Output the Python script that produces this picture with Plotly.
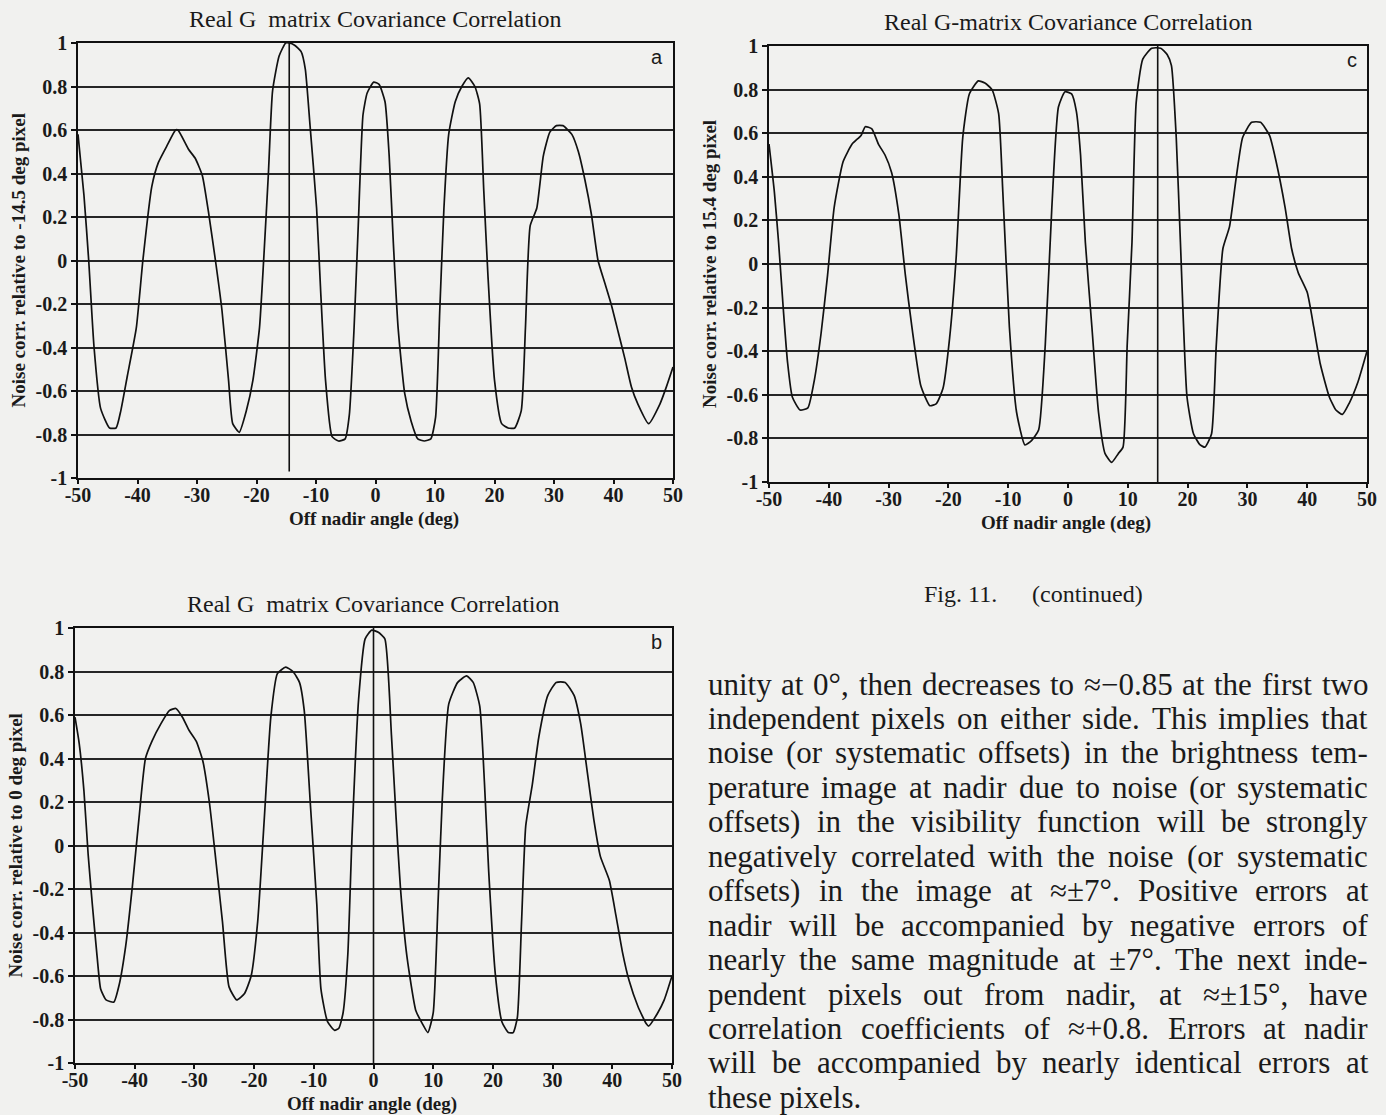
import plotly.graph_objects as go

# ---------------- data ----------------
angle_a = [-50, -49, -48.2, -47.3, -46.2, -44.7, -43.6, -42.8, -41.7, -40.2, -39.1, -37.6, -36.5, -35,
           -33.6, -33.2, -31.4, -30.3, -29.1, -28, -26.9, -25.8, -24.7, -24, -22.9, -21.7, -20.6,
           -19.5, -18.8, -18, -17.3, -16.2, -15.1, -14.5, -13.6, -12.5, -11.8, -11, -9.9, -9.2, -8.4,
           -7.3, -6.2, -5.1, -4.4, -3.6, -2.9, -2.1, -1.4, -0.3, 0.6, 1.6, 2.3, 3.0, 3.8, 4.9, 6,
           7.1, 8.2, 9.3, 10.1, 10.8, 11.5, 12.3, 13.4, 14.5, 15.6, 16.7, 17.5, 18.2, 18.9, 20,
           21.2, 22.3, 23.4, 24.5, 25.2, 26, 27.1, 28.2, 29.3, 30.4, 31.5, 33, 34.1, 35.2, 36.3,
           37.4, 38.5, 39.6, 40.8, 41.9, 43, 44.1, 45.9, 47.8, 48.9, 50]
corr_a = [0.58, 0.3, 0.0, -0.4, -0.68, -0.77, -0.77, -0.69, -0.53, -0.31, 0.0, 0.34, 0.45, 0.53,
          0.6, 0.6, 0.51, 0.47, 0.39, 0.21, 0.0, -0.23, -0.55, -0.75, -0.79, -0.69, -0.55,
          -0.31, 0.0, 0.4, 0.78, 0.94, 1.0, 1.0, 0.99, 0.96, 0.88, 0.62, 0.24, -0.15, -0.55,
          -0.81, -0.83, -0.82, -0.71, -0.31, 0.16, 0.67, 0.77, 0.82, 0.81, 0.73, 0.48, 0.08, -0.31, -0.61, -0.74,
          -0.82, -0.83, -0.82, -0.72, -0.23, 0.24, 0.58, 0.73, 0.80, 0.84, 0.80, 0.72, 0.32, -0.07, -0.55,
          -0.75, -0.77, -0.77, -0.69, -0.31, 0.16, 0.24, 0.48, 0.59, 0.62, 0.62, 0.58, 0.5, 0.37, 0.21,
          0.0, -0.1, -0.2, -0.33, -0.45, -0.58, -0.66, -0.75, -0.66, -0.58, -0.49]

angle_c = [-50, -49.1, -48.4, -47.6, -46.9, -46.1, -44.8, -43.5, -42.4, -41.3, -40.2, -39.1, -37.6,
           -36.1, -34.6, -33.9, -32.8, -31.7, -30.6, -29.5, -28.3, -27.2, -26.1, -24.6, -23.1, -22,
           -20.9, -19.8, -18.7, -17.6, -16.5, -15, -13.9, -12.7, -11.6, -10.9, -9.8, -8.6, -7.2,
           -6.1, -4.9, -3.8, -2.7, -1.6, -0.5, 0.6, 1.4, 2.1, 2.9, 4, 5.1, 6.2, 7.3, 8.4, 9.2, 9.9,
           10.7, 11.4, 12.5, 14, 15.5, 16.6, 17.3, 18.1, 18.8, 19.9, 21, 22.1, 22.9, 24, 24.8, 25.9,
           27, 28.1, 29.2, 30.7, 32.2, 33.7, 34.8, 36.3, 37.4, 38.5, 40, 41.1, 42.2, 43.7, 44.8,
           45.9, 47, 48.5, 50]
corr_c = [0.55, 0.33, 0.1, -0.21, -0.45, -0.61, -0.67, -0.66, -0.53, -0.32, -0.05, 0.26, 0.47,
          0.55, 0.59, 0.63, 0.62, 0.55, 0.5, 0.42, 0.23, -0.05, -0.29, -0.56, -0.65, -0.64,
          -0.57, -0.34, 0.03, 0.58, 0.78, 0.84, 0.83, 0.8, 0.69, 0.33, -0.29, -0.68, -0.83,
          -0.81, -0.76, -0.37, 0.26, 0.72, 0.79, 0.78, 0.70, 0.5, 0.1, -0.29, -0.68, -0.87, -0.91, -0.87, -0.84, -0.37,
          0.1, 0.74, 0.94, 0.99, 0.99, 0.96, 0.91, 0.58, 0.1, -0.61, -0.78, -0.83, -0.84, -0.78, -0.37, 0.07,
          0.17, 0.39, 0.58, 0.65, 0.65, 0.59, 0.47, 0.26, 0.07, -0.04, -0.13, -0.29, -0.46, -0.61, -0.67,
          -0.69, -0.64, -0.54, -0.4]

angle_b = [-50, -49.3, -48.5, -47.8, -47.1, -46.3, -45.7, -44.8, -43.5, -42.6, -41.5, -40.4, -39.3,
           -38.2, -37.1, -35.6, -34.2, -33.1, -32, -30.9, -29.7, -28.6, -27.5, -26.4, -25.3, -24.2,
           -22.9, -21.6, -20.5, -19.4, -18.3, -17.2, -16.1, -14.7, -13.5, -12.4, -11.6, -10.6, -9.5,
           -8.8, -7.7, -6.5, -5.8, -5.1, -4.3, -3.6, -2.5, -1.4, -0.3, 0.8, 1.9, 3, 3.8, 4.5, 5.6,
           7.1, 8.2, 9.1, 10, 10.8, 11.5, 12.6, 14.1, 15.6, 16.7, 17.8, 18.6, 19.3, 20.4, 21.5, 22.6,
           23.4, 24.1, 24.8, 25.5, 26.6, 27.7, 29.2, 30.6, 32.1, 33.6, 34.7, 35.8, 36.9, 38, 39.5,
           40.6, 41.7, 42.8, 44.3, 45.7, 46.1, 47.6, 48.7, 50]
corr_b = [0.59, 0.47, 0.25, -0.04, -0.27, -0.51, -0.66, -0.71, -0.72, -0.64, -0.46, -0.19, 0.12,
          0.40, 0.48, 0.56, 0.62, 0.63, 0.59, 0.53, 0.48, 0.39, 0.2, -0.07, -0.35, -0.65,
          -0.71, -0.68, -0.6, -0.35, 0.12, 0.59, 0.79, 0.82, 0.8, 0.75, 0.62, 0.2, -0.27,
          -0.66, -0.81, -0.85, -0.84, -0.77, -0.5, 0.04, 0.67, 0.95, 0.99, 0.98, 0.95, 0.51, 0.12, -0.19, -0.51,
          -0.76, -0.82, -0.86, -0.77, -0.27, 0.2, 0.65, 0.75, 0.78, 0.75, 0.64, 0.28, -0.12, -0.59, -0.81, -0.86,
          -0.86, -0.79, -0.35, 0.09, 0.28, 0.50, 0.69, 0.75, 0.75, 0.69, 0.56, 0.34, 0.12, -0.05, -0.16,
          -0.32, -0.49, -0.62, -0.74, -0.82, -0.83, -0.77, -0.71, -0.6]

ref_angle_a = -14.5
ref_angle_b = 0
ref_angle_c = 15

x_tick_vals = [-50, -40, -30, -20, -10, 0, 10, 20, 30, 40, 50]
x_tick_text = ["-50", "-40", "-30", "-20", "-10", "0", "10", "20", "30", "40", "50"]
y_tick_vals = [-1, -0.8, -0.6, -0.4, -0.2, 0, 0.2, 0.4, 0.6, 0.8, 1]
y_tick_text = ["-1", "-0.8", "-0.6", "-0.4", "-0.2", "0", "0.2", "0.4", "0.6", "0.8", "1"]

title_a = "Real G  matrix Covariance Correlation"
title_b = "Real G  matrix Covariance Correlation"
title_c = "Real G-matrix Covariance Correlation"
ylabel_a = "Noise corr. relative to -14.5 deg pixel"
ylabel_b = "Noise corr. relative to 0 deg pixel"
ylabel_c = "Noise corr. relative to 15.4 deg pixel"
xlabel = "Off nadir angle (deg)"

caption_left = "Fig. 11."
caption_right = "(continued)"
paragraph_lines = [
    "unity at 0°, then decreases to ≈−0.85 at the first two",
    "independent pixels on either side. This implies that",
    "noise (or systematic offsets) in the brightness tem-",
    "perature image at nadir due to noise (or systematic",
    "offsets) in the visibility function will be strongly",
    "negatively correlated with the noise (or systematic",
    "offsets) in the image at ≈±7°. Positive errors at",
    "nadir will be accompanied by negative errors of",
    "nearly the same magnitude at ±7°. The next inde-",
    "pendent pixels out from nadir, at ≈±15°, have",
    "correlation coefficients of ≈+0.8. Errors at nadir",
    "will be accompanied by nearly identical errors at",
    "these pixels.",
]

# ---------------- layout helpers ----------------
W, H = 1386, 1115
BG = "#f1f1ef"
SERIF = "Liberation Serif, Times New Roman, serif"
INK = "#1a1a1a"


def px(x):
    return x / W


def py(y):
    return 1 - y / H


fig = go.Figure()

panels = [
    ("", angle_a, corr_a, ref_angle_a, 78, 673, 43, 478, title_a, ylabel_a, "a", -0.97),
    ("2", angle_c, corr_c, ref_angle_c, 769, 1367, 46, 482, title_c, ylabel_c, "c", -1),
    ("3", angle_b, corr_b, ref_angle_b, 75, 672, 628, 1063, title_b, ylabel_b, "b", -1),
]

annotations = []
shapes = []
for name, xs, ys, ref, l, r, t, b, title, ylab, letter, ref_bottom in panels:
    xa = "xaxis" + name
    ya = "yaxis" + name
    fig.add_trace(go.Scatter(x=xs, y=ys, mode="lines",
                             line=dict(color="#111111", width=1.7, shape="spline", smoothing=0.5),
                             xaxis="x" + name, yaxis="y" + name, showlegend=False,
                             hoverinfo="skip"))
    fig.update_layout(**{
        xa: dict(domain=[px(l), px(r)], range=[-50, 50], anchor="y" + name,
                 tickvals=x_tick_vals, ticktext=x_tick_text, ticks="outside", ticklen=4,
                 tickwidth=1.5, tickcolor="#111", showgrid=False, zeroline=False,
                 showline=True, linecolor="#111", linewidth=1.7, mirror=True, automargin=False,
                 ticklabelstandoff=-6,
                 tickfont=dict(family=SERIF, size=20, color=INK, weight="bold")),
        ya: dict(domain=[py(b), py(t)], range=[-1, 1], anchor="x" + name,
                 tickvals=y_tick_vals, ticktext=y_tick_text, ticks="outside", ticklen=5,
                 tickwidth=1.5, tickcolor="#111", showgrid=True, gridcolor="#262626",
                 gridwidth=1.8, zeroline=False, showline=True, linecolor="#111",
                 linewidth=1.7, mirror=True, automargin=False,
                 tickfont=dict(family=SERIF, size=20, color=INK, weight="bold")),
    })
    shapes.append(dict(type="line", xref="x" + name, yref="y" + name,
                       x0=ref, x1=ref, y0=1, y1=ref_bottom,
                       line=dict(color="#111", width=1.6)))
    cx = (l + r) / 2
    annotations.append(dict(text=title, x=px(cx), y=py(t - 24), xref="paper", yref="paper",
                            showarrow=False, xanchor="center", yanchor="middle",
                            font=dict(family=SERIF, size=24, color=INK)))
    annotations.append(dict(text="<b>" + xlabel + "</b>", x=px(cx - 2), y=py(b + 41),
                            xref="paper", yref="paper", showarrow=False,
                            xanchor="center", yanchor="middle",
                            font=dict(family=SERIF, size=19, color=INK)))
    annotations.append(dict(text="<b>" + ylab + "</b>", x=px(l - 60), y=py((t + b) / 2),
                            xref="paper", yref="paper", showarrow=False, textangle=-90,
                            xanchor="center", yanchor="middle",
                            font=dict(family=SERIF, size=19, color=INK)))
    annotations.append(dict(text=letter, x=px(r - 8), y=py(t + 14), xref="paper", yref="paper",
                            showarrow=False, xanchor="right", yanchor="middle",
                            font=dict(family="Liberation Sans, Arial, sans-serif", size=20,
                                      color=INK)))

# ---------------- caption ----------------
annotations.append(dict(text=caption_left, x=px(999), y=py(594), xref="paper", yref="paper",
                        showarrow=False, xanchor="right", yanchor="middle",
                        font=dict(family=SERIF, size=24, color=INK)))
annotations.append(dict(text=caption_right, x=px(1030), y=py(594), xref="paper", yref="paper",
                        showarrow=False, xanchor="left", yanchor="middle",
                        font=dict(family=SERIF, size=24, color=INK)))

# ---------------- justified paragraph ----------------
TNR = {
    'a': 444, 'b': 500, 'c': 444, 'd': 500, 'e': 444, 'f': 333, 'g': 500, 'h': 500, 'i': 278,
    'j': 278, 'k': 500, 'l': 278, 'm': 778, 'n': 500, 'o': 500, 'p': 500, 'q': 500, 'r': 333,
    's': 389, 't': 278, 'u': 500, 'v': 500, 'w': 722, 'x': 500, 'y': 500, 'z': 444,
    'E': 611, 'P': 556, 'T': 611, 'F': 556,
    '0': 500, '1': 500, '2': 500, '3': 500, '4': 500, '5': 500, '6': 500, '7': 500, '8': 500,
    '9': 500, '.': 250, ',': 250, '(': 333, ')': 333, '-': 333, '°': 400, '≈': 549,
    '−': 564, '±': 549, '+': 564, ' ': 250,
}
FS = 31
LEFT, RIGHT = 706, 1366
TOP_LINE, LEAD = 684, 34.45


def word_w(wd):
    return sum(TNR.get(ch, 500) for ch in wd) * FS / 1000.0


for i, line in enumerate(paragraph_lines):
    yy = py(TOP_LINE + i * LEAD)
    words = line.split(" ")
    last = i == len(paragraph_lines) - 1
    if last or len(words) == 1:
        annotations.append(dict(text=line, x=px(LEFT), y=yy, xref="paper", yref="paper",
                                showarrow=False, xanchor="left", yanchor="middle",
                                font=dict(family=SERIF, size=FS, color=INK)))
        continue
    widths = [word_w(wd) for wd in words]
    gap = (RIGHT - LEFT - sum(widths)) / (len(words) - 1)
    xcur = LEFT
    for wd, ww in zip(words, widths):
        annotations.append(dict(text=wd, x=px(xcur), y=yy, xref="paper", yref="paper",
                                showarrow=False, xanchor="left", yanchor="middle",
                                font=dict(family=SERIF, size=FS, color=INK)))
        xcur += ww + gap

fig.update_layout(width=W, height=H,
                  margin=dict(l=0, r=0, t=0, b=0, pad=0, autoexpand=False),
                  paper_bgcolor=BG, plot_bgcolor=BG,
                  annotations=annotations, shapes=shapes, showlegend=False)

fig.write_html("out.html", config={"displayModeBar": False},
               post_script="document.body.style.margin='0';document.body.style.overflow='hidden';")
